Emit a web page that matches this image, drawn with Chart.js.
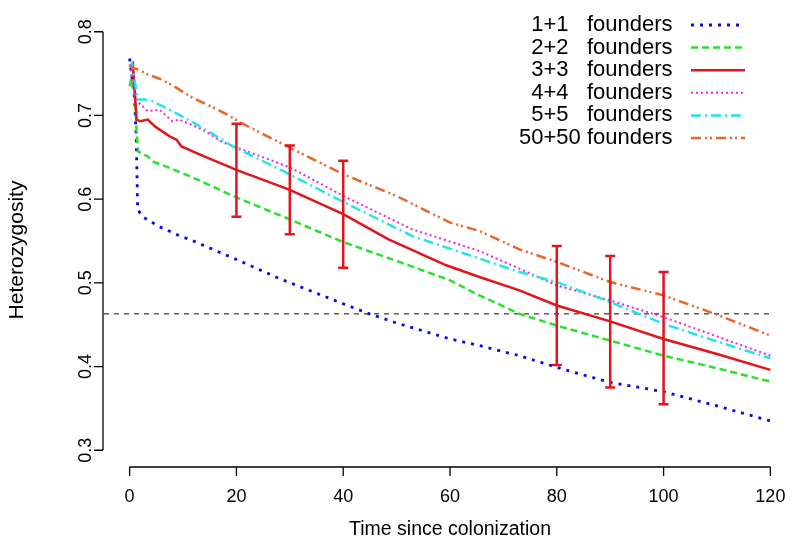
<!DOCTYPE html>
<html>
<head>
<meta charset="utf-8">
<script src="https://cdn.jsdelivr.net/npm/chart.js@4.4.0/dist/chart.umd.min.js"></script>
<style>
body { margin: 0; background: #fff; }
#wrap { width: 796px; height: 549px; }
</style>
</head>
<body>
<div id="wrap"><canvas id="grafica" width="796" height="549"></canvas></div>
<script>
// legend labels (spaces keep the numbers lined up like the original)
var seriesLabels = ['  1+1   founders', '  2+2   founders', '  3+3   founders',
                    '  4+4   founders', '  5+5   founders', '50+50 founders'];

// time (generations) and heterozygosity
var t1 = [0, 0.94, 1.25, 1.5, 2.4, 5.6, 9.4, 11.2, 20, 28.1, 40, 44.9, 50, 60, 65.5, 73, 80, 90, 100, 110, 120];
var h1 = [0.768, 0.719, 0.671, 0.588, 0.579, 0.567, 0.556, 0.552, 0.528, 0.505, 0.475, 0.463, 0.452, 0.433, 0.425, 0.413, 0.399, 0.381, 0.370, 0.353, 0.335];

var t2 = [0, 0.3, 1.0, 1.3, 1.6, 3.4, 4.3, 8, 12.5, 19.3, 29.9, 39.9, 50.5, 60, 65.5, 70, 73, 80, 90, 100, 110, 120];
var h2 = [0.735, 0.744, 0.725, 0.680, 0.657, 0.651, 0.645, 0.636, 0.624, 0.604, 0.576, 0.549, 0.525, 0.503, 0.485, 0.472, 0.463, 0.449, 0.431, 0.413, 0.398, 0.382];

var t3 = [0, 0.6, 1.3, 2, 3.4, 4.7, 7.5, 8.8, 9.7, 11.8, 14.4, 20, 30, 40, 48.5, 59.3, 65.5, 73, 80, 90, 100, 110, 120];
var h3 = [0.758, 0.762, 0.695, 0.693, 0.695, 0.687, 0.675, 0.671, 0.663, 0.657, 0.650, 0.635, 0.611, 0.582, 0.552, 0.521, 0.507, 0.491, 0.473, 0.454, 0.433, 0.415, 0.396];

var t4 = [0, 1, 1.9, 3.4, 5.6, 8, 9.35, 13.7, 17.4, 20, 30, 40, 52.9, 65.5, 73, 80, 90, 100, 110, 120];
var h4 = [0.761, 0.722, 0.714, 0.705, 0.707, 0.693, 0.695, 0.683, 0.668, 0.662, 0.638, 0.604, 0.564, 0.538, 0.517, 0.497, 0.479, 0.459, 0.436, 0.413];

var t5 = [0, 0.4, 1.55, 2.8, 4.3, 6.5, 8, 11.8, 15, 19.3, 28.6, 39.9, 52.9, 65.5, 73, 80, 90, 100, 110, 120];
var h5 = [0.758, 0.762, 0.719, 0.719, 0.717, 0.710, 0.705, 0.692, 0.680, 0.663, 0.634, 0.597, 0.556, 0.529, 0.513, 0.501, 0.477, 0.451, 0.430, 0.410];

var t50 = [0, 0.56, 1.5, 3.4, 6, 8.8, 11.8, 15.5, 18.3, 20.6, 30.5, 39.9, 49.9, 60, 65.5, 73, 80, 90, 100, 110, 120];
var h50 = [0.760, 0.757, 0.755, 0.749, 0.743, 0.733, 0.721, 0.710, 0.701, 0.692, 0.660, 0.630, 0.604, 0.572, 0.562, 0.540, 0.525, 0.501, 0.485, 0.462, 0.437];

// error bars on the 3+3 curve
var barTimes = [20, 30, 40, 80, 90, 100];
var barLow   = [0.579, 0.558, 0.518, 0.402, 0.375, 0.355];
var barHigh  = [0.690, 0.664, 0.646, 0.544, 0.532, 0.513];

var threshold = 0.463;
var xTicks = [0, 20, 40, 60, 80, 100, 120];
var yTicks = [0.3, 0.4, 0.5, 0.6, 0.7, 0.8];

var colores = ['#0a0ae6', '#2ee02e', '#e3141b', '#ee22ee', '#22e4f0', '#ec6428'];
var guiones = [[3, 6], [7, 4], [], [2, 3], [10, 4, 2, 4], [10, 4, 2, 3, 2, 4]];
var anchos = [2.8, 2.5, 2.5, 2, 2.5, 2.5];

function pts(ts, hs) {
    return ts.map(function(t, i){ return {x: t, y: hs[i]}; });
}

var series = [[t1, h1], [t2, h2], [t3, h3], [t4, h4], [t5, h5], [t50, h50]];
var datasets = series.map(function(s, i){
    return {
        label: seriesLabels[i],
        data: pts(s[0], s[1]),
        showLine: true,
        borderColor: colores[i],
        borderWidth: anchos[i],
        borderDash: guiones[i],
        borderCapStyle: 'butt',
        pointRadius: 0,
        tension: 0,
        order: 6 - i
    };
});
datasets.push({
    label: 'umbral',
    data: [{x: -4.8, y: threshold}, {x: 120, y: threshold}],
    showLine: true,
    borderColor: '#444',
    borderWidth: 1.3,
    borderDash: [5, 5],
    pointRadius: 0,
    order: 10
});

var FONT = '"Liberation Sans", Arial, sans-serif';

var errorBars = {
    id: 'errorBars',
    afterDatasetsDraw: function(chart){
        var ctx = chart.ctx, xs = chart.scales.x, ys = chart.scales.y;
        ctx.save();
        ctx.strokeStyle = colores[2];
        ctx.lineWidth = 2.5;
        barTimes.forEach(function(t, i){
            var px = xs.getPixelForValue(t);
            var lo = ys.getPixelForValue(barLow[i]);
            var hi = ys.getPixelForValue(barHigh[i]);
            ctx.beginPath();
            ctx.moveTo(px, lo); ctx.lineTo(px, hi);
            ctx.moveTo(px - 5, lo); ctx.lineTo(px + 5, lo);
            ctx.moveTo(px - 5, hi); ctx.lineTo(px + 5, hi);
            ctx.stroke();
        });
        ctx.restore();
    }
};

var rAxes = {
    id: 'rAxes',
    afterDraw: function(chart){
        var ctx = chart.ctx, xs = chart.scales.x, ys = chart.scales.y, area = chart.chartArea;
        var yb = area.bottom, xl = area.left - 1;
        ctx.save();
        ctx.strokeStyle = '#000';
        ctx.fillStyle = '#000';
        ctx.lineWidth = 1.3;
        ctx.beginPath();
        ctx.moveTo(xs.getPixelForValue(xTicks[0]), yb);
        ctx.lineTo(xs.getPixelForValue(xTicks[xTicks.length - 1]), yb);
        xTicks.forEach(function(v){
            var p = xs.getPixelForValue(v);
            ctx.moveTo(p, yb); ctx.lineTo(p, yb + 9);
        });
        ctx.moveTo(xl, ys.getPixelForValue(yTicks[0]));
        ctx.lineTo(xl, ys.getPixelForValue(yTicks[yTicks.length - 1]));
        yTicks.forEach(function(v){
            var p = ys.getPixelForValue(v);
            ctx.moveTo(xl, p); ctx.lineTo(xl - 9, p);
        });
        ctx.stroke();

        ctx.font = '18px ' + FONT;
        ctx.textAlign = 'center';
        ctx.textBaseline = 'middle';
        xTicks.forEach(function(v){
            ctx.fillText(String(v), xs.getPixelForValue(v), 497);
        });
        yTicks.forEach(function(v){
            ctx.save();
            ctx.translate(86, ys.getPixelForValue(v));
            ctx.rotate(-Math.PI / 2);
            ctx.fillText(v.toFixed(1), 0, 0);
            ctx.restore();
        });
        ctx.font = '19.5px ' + FONT;
        ctx.fillText('Time since colonization', (area.left + area.right) / 2, 530);
        ctx.save();
        ctx.translate(17, 250);
        ctx.rotate(-Math.PI / 2);
        ctx.font = '21px ' + FONT;
        ctx.fillText('Heterozygosity', 0, 0);
        ctx.restore();

        // legend: text on the left, line sample on the right
        ctx.font = '22px ' + FONT;
        ctx.textAlign = 'left';
        for (var i = 0; i < 6; i++) {
            var ds = chart.data.datasets[i];
            var y = 25 + i * 22.6;
            ctx.fillStyle = '#000';
            ctx.fillText(ds.label, 519, y);
            ctx.strokeStyle = ds.borderColor;
            ctx.lineWidth = ds.borderWidth;
            ctx.setLineDash(ds.borderDash);
            ctx.beginPath();
            ctx.moveTo(691, y); ctx.lineTo(745, y);
            ctx.stroke();
            ctx.setLineDash([]);
        }
        ctx.restore();
    }
};

var chart = new Chart(document.getElementById('grafica').getContext('2d'), {
    type: 'scatter',
    data: { datasets: datasets },
    options: {
        responsive: false,
        animation: false,
        layout: { padding: { top: 15, right: 0, left: 0, bottom: 0 } },
        plugins: { legend: { display: false }, tooltip: { enabled: false } },
        scales: {
            x: {
                type: 'linear', min: -4.8, max: 124.8,
                grid: { display: false }, border: { display: false },
                ticks: { display: false },
                afterFit: function(s){ s.height = 82; }
            },
            y: {
                type: 'linear', min: 0.28, max: 0.82,
                grid: { display: false }, border: { display: false },
                ticks: { display: false },
                afterFit: function(s){ s.width = 104; }
            }
        }
    },
    plugins: [errorBars, rAxes]
});
</script>
</body>
</html>
